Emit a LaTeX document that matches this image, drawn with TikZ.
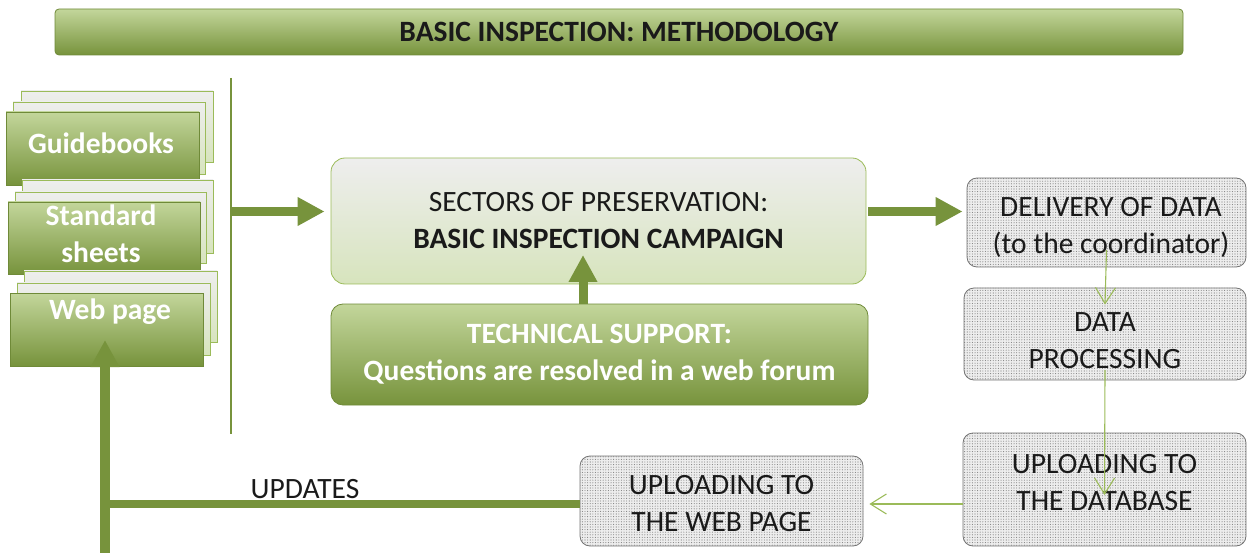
\documentclass[tikz,border=0pt]{standalone}
\usepackage{fontspec}
\setmainfont{Carlito}
\usetikzlibrary{arrows.meta,patterns.meta}
\definecolor{gdark}{HTML}{77933C}
\definecolor{gdarkedge}{HTML}{6F8A38}
\definecolor{glight}{HTML}{C3D69B}
\definecolor{gpale}{HTML}{D7E4BD}
\definecolor{gedge}{HTML}{9BBB59}
\definecolor{grayback}{HTML}{EEEEEE}
\definecolor{inkgray}{HTML}{1A1A1A}
\begin{document}
\begin{tikzpicture}[x=1pt,y=-1pt,
  darkbox/.style={draw=gdarkedge, line width=0.8pt, top color=glight, bottom color=gdark, inner sep=0pt},
  sheet/.style={draw=gedge, line width=0.8pt, top color=grayback, bottom color=gpale, inner sep=0pt},
  palebox/.style={draw=gedge, line width=0.8pt, top color=grayback, bottom color=gpale, rounded corners=14pt, inner sep=0pt},
  dotbox/.style={draw=black!55, line width=0.8pt, rounded corners=10pt, inner sep=0pt,
    preaction={fill=black!7}, pattern={Dots[distance=2.6pt,radius=0.55pt]}, pattern color=black!50},
  txt/.style={font=\fontsize{29.5}{37}\selectfont, align=center, text=inkgray, inner sep=0pt},
  wtxt/.style={font=\fontsize{29.5}{37}\selectfont\bfseries, align=center, text=white, inner sep=0pt},
  bigarrow/.style={draw=gdark, line width=9pt, -{Triangle[length=27pt,width=27pt]}},
  thinarrow/.style={draw=gedge, line width=1.1pt, -{Straight Barb[length=16pt,width=20pt]}}]
\useasboundingbox (0,0) rectangle (1247,553);

% title bar
\node[darkbox, rounded corners=4pt, minimum width=1128pt, minimum height=46pt,
  font=\fontsize{29.5}{34}\selectfont\bfseries, text=inkgray] (title) at (619,32) {BASIC INSPECTION: METHODOLOGY};

% document stacks on the left
\node[sheet, minimum width=192pt, minimum height=71pt] (gb1) at (117,126.5) {};
\node[sheet, minimum width=192pt, minimum height=72pt] (gb2) at (109,138) {};
\node[darkbox, minimum width=193pt, minimum height=73pt] (guide) at (102.5,148.5) {};
\node[wtxt] (tguide) at (101,143) {Guidebooks};

\node[sheet, minimum width=191pt, minimum height=73pt] (sd1) at (117.5,216.5) {};
\node[sheet, minimum width=191pt, minimum height=71pt] (sd2) at (110.5,227.5) {};
\node[darkbox, minimum width=192pt, minimum height=72pt] (standard) at (104,238) {};
\node[wtxt] (tstandard) at (101,233.5) {Standard\\sheets};

\node[sheet, minimum width=193pt, minimum height=71pt] (wp1) at (120.5,306.5) {};
\node[sheet, minimum width=193pt, minimum height=72pt] (wp2) at (113.5,319) {};
\node[darkbox, minimum width=193pt, minimum height=73pt] (webpage) at (106.5,329.5) {};
\node[wtxt] (twebpage) at (110,312) {Web page};

% separator line
\coordinate (septop) at (231,78);
\coordinate (sepbot) at (231,434);
\draw[gdark, line width=1.2pt] (septop) -- (sepbot);
\coordinate (feed) at (231,211.5);

% central boxes
\node[palebox, minimum width=535pt, minimum height=126pt, txt] (campaign) at (598.5,221)
  {SECTORS OF PRESERVATION:\\\textbf{BASIC INSPECTION CAMPAIGN}};
\node[darkbox, rounded corners=12pt, minimum width=537pt, minimum height=101pt, wtxt] (support) at (599.5,354.5)
  {TECHNICAL SUPPORT:\\Questions are resolved in a web forum};

% data flow boxes
\node[dotbox, minimum width=279pt, minimum height=89pt] (delivery) at (1106.5,222.5) {};
\node[txt] (tdelivery) at (1111,227.5) {DELIVERY OF DATA\\(to the coordinator)};
\node[dotbox, minimum width=282pt, minimum height=92pt] (processing) at (1105,334) {};
\node[txt] (tprocessing) at (1105,341) {DATA\\PROCESSING};
\node[dotbox, minimum width=283pt, minimum height=113pt] (database) at (1104.5,489.5) {};
\node[txt] (tdatabase) at (1104.5,482.5) {UPLOADING TO\\THE DATABASE};
\node[dotbox, minimum width=283pt, minimum height=90pt] (webup) at (721.5,501) {};
\node[txt] (twebup) at (721.5,503.5) {UPLOADING TO\\THE WEB PAGE};

% thick connectors
\draw[bigarrow, shorten >=6pt] (feed) -- (feed -| campaign.west);
\draw[bigarrow, shorten >=4pt] ([xshift=2pt]feed -| campaign.east) -- (feed -| delivery.west);
\coordinate (supporttip) at (583,255);
\draw[bigarrow] (supporttip |- support.north) -- (supporttip);

% thin connectors
\draw[thinarrow] ([yshift=-27.5pt]delivery.center) -- ([yshift=-17pt]processing.north);
\draw[thinarrow] ([yshift=-36pt]processing.center) -- ([yshift=-5.5pt]database.center);
\draw[thinarrow] ([yshift=-14.5pt]database.west) -- ([xshift=6pt,yshift=-3pt]webup.east);

% update loop back to the web page
\coordinate (turn) at (105,504);
\coordinate (foot) at (105,553);
\coordinate (updtip) at (105,340);
\draw[gdark, line width=8pt] ([yshift=-3pt]webup.west) -- ([xshift=-5pt]turn);
\draw[bigarrow, line width=10pt] (foot) -- (updtip);
\node[txt] (updates) at (305,489) {UPDATES};
\end{tikzpicture}
\end{document}
